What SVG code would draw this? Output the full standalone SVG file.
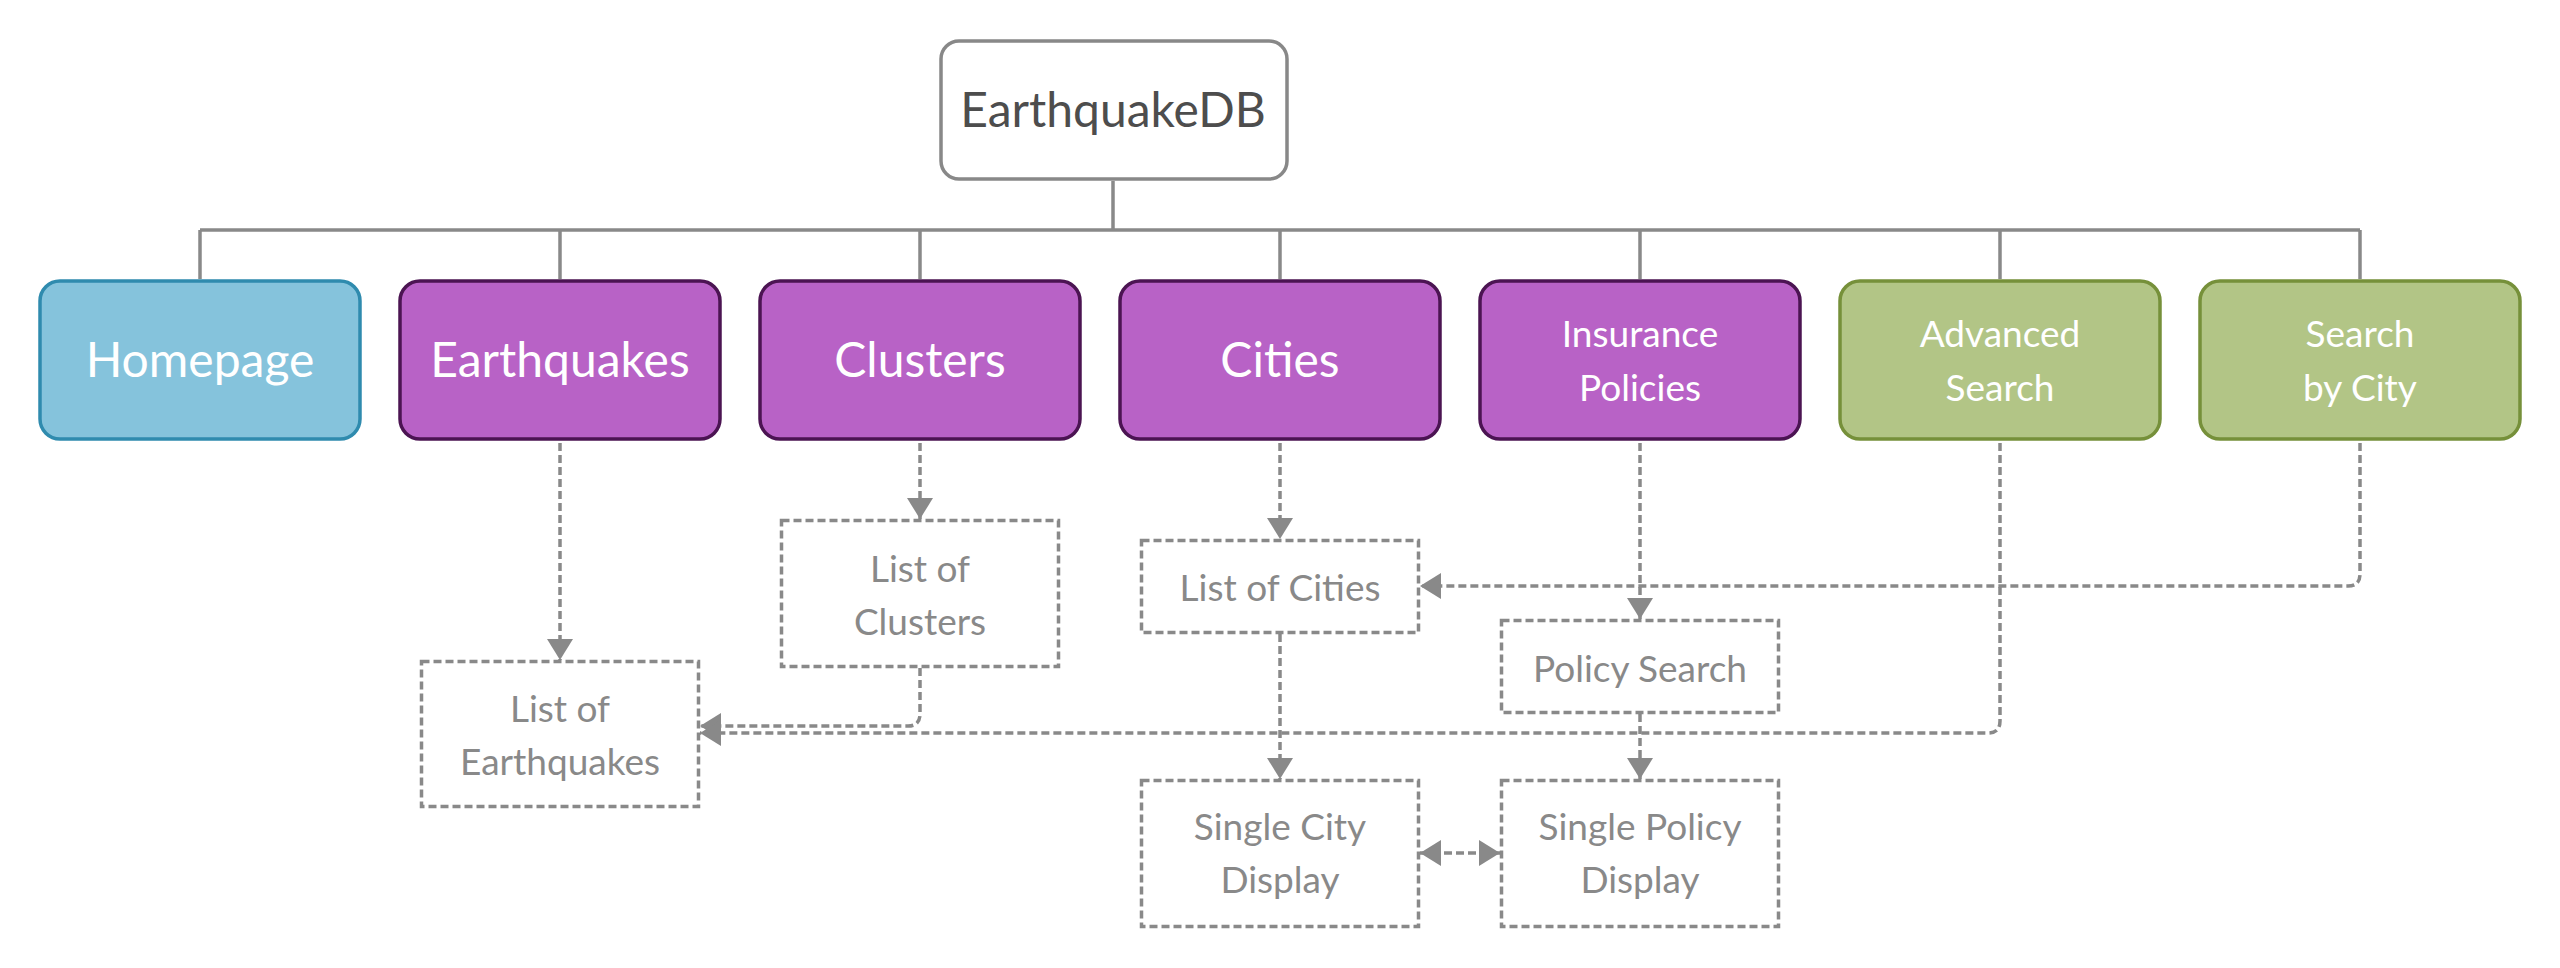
<svg xmlns="http://www.w3.org/2000/svg" width="2560" height="968" viewBox="0 0 2560 968">
<style>
text{font-family:Lato,"Noto Sans","Liberation Sans",sans-serif;text-anchor:middle}
.main{font-size:48px;fill:#ffffff}
.small{font-size:37px;fill:#ffffff}
.root{fill:#ffffff;stroke:#888888;stroke-width:3.5}
.roott{font-size:48px;fill:#4d4d4d}
.blue{fill:#85c3dc;stroke:#2f8bae;stroke-width:3.5}
.purple{fill:#b862c6;stroke:#4b1452;stroke-width:3.5}
.green{fill:#b2c586;stroke:#76903a;stroke-width:3.5}
.dbox{fill:#ffffff;stroke:#898989;stroke-width:3.5;stroke-dasharray:8 4}
.dt{font-size:37px;fill:#898989}
.tree{fill:none;stroke:#898989;stroke-width:3.5}
.dash{fill:none;stroke:#898989;stroke-width:3.5;stroke-dasharray:8 4}
.arr{marker-end:url(#ah)}
.bi{marker-end:url(#ah);marker-start:url(#ah)}
</style>
<defs>
<marker id="ah" viewBox="0 0 21 26" markerWidth="21" markerHeight="26" refX="21" refY="13" orient="auto-start-reverse" markerUnits="userSpaceOnUse">
<path d="M0,0 L21,13 L0,26 Z" fill="#898989"/>
</marker>
</defs>
<rect width="2560" height="968" fill="#ffffff"/>
<g id="connectors">
<path class="tree" d="M1113,181 V230 M200,230 H2360 M200,230 V279 M560,230 V279 M920,230 V279 M1280,230 V279 M1640,230 V279 M2000,230 V279 M2360,230 V279"/>
<path class="dash arr" d="M560,443 V660"/>
<path class="dash arr" d="M920,443 V519"/>
<path class="dash arr" d="M1280,443 V539"/>
<path class="dash arr" d="M1640,443 V619"/>
<path class="dash arr" d="M920,668 V714 Q920,726 908,726 H700"/>
<path class="dash arr" d="M2000,443 V721 Q2000,733 1988,733 H700"/>
<path class="dash arr" d="M2360,443 V574 Q2360,586 2348,586 H1420"/>
<path class="dash arr" d="M1280,634 V779"/>
<path class="dash arr" d="M1640,714 V779"/>
<path class="dash bi" d="M1420,853 H1500"/>
</g>
<g id="n-root"><rect class="root" x="941" y="41" width="346" height="138" rx="18"/><text class="roott" x="1113" y="127">EarthquakeDB</text></g>
<g id="n-homepage"><rect class="blue" x="40" y="281" width="320" height="158" rx="20"/><text class="main" x="200" y="377">Homepage</text></g>
<g id="n-earthquakes"><rect class="purple" x="400" y="281" width="320" height="158" rx="20"/><text class="main" x="560" y="377">Earthquakes</text></g>
<g id="n-clusters"><rect class="purple" x="760" y="281" width="320" height="158" rx="20"/><text class="main" x="920" y="377">Clusters</text></g>
<g id="n-cities"><rect class="purple" x="1120" y="281" width="320" height="158" rx="20"/><text class="main" x="1280" y="377">Cities</text></g>
<g id="n-insurance"><rect class="small-box purple" x="1480" y="281" width="320" height="158" rx="20"/><text class="small" x="1640" y="347">Insurance</text><text class="small" x="1640" y="401">Policies</text></g>
<g id="n-advanced"><rect class="green" x="1840" y="281" width="320" height="158" rx="20"/><text class="small" x="2000" y="347">Advanced</text><text class="small" x="2000" y="401">Search</text></g>
<g id="n-searchcity"><rect class="green" x="2200" y="281" width="320" height="158" rx="20"/><text class="small" x="2360" y="347">Search</text><text class="small" x="2360" y="401">by City</text></g>
<g id="n-listeq"><rect class="dbox" x="421.5" y="661.5" width="277" height="145"/><text class="dt" x="560" y="722">List of</text><text class="dt" x="560" y="775">Earthquakes</text></g>
<g id="n-listclusters"><rect class="dbox" x="781.5" y="520.5" width="277" height="146"/><text class="dt" x="920" y="582">List of</text><text class="dt" x="920" y="635">Clusters</text></g>
<g id="n-listcities"><rect class="dbox" x="1141.5" y="540.5" width="277" height="92"/><text class="dt" x="1280" y="601">List of Cities</text></g>
<g id="n-policysearch"><rect class="dbox" x="1501.5" y="620.5" width="277" height="92"/><text class="dt" x="1640" y="682">Policy Search</text></g>
<g id="n-singlecity"><rect class="dbox" x="1141.5" y="780.5" width="277" height="146"/><text class="dt" x="1280" y="840">Single City</text><text class="dt" x="1280" y="893">Display</text></g>
<g id="n-singlepolicy"><rect class="dbox" x="1501.5" y="780.5" width="277" height="146"/><text class="dt" x="1640" y="840">Single Policy</text><text class="dt" x="1640" y="893">Display</text></g>
</svg>
